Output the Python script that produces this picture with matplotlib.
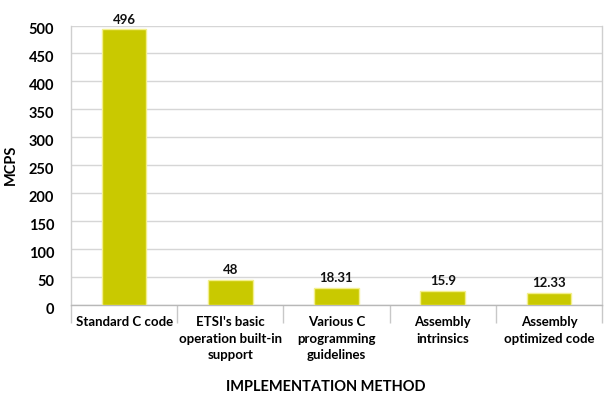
import matplotlib
matplotlib.use("Agg")
import matplotlib.pyplot as plt
import matplotlib.transforms as mtransforms
import numpy as np

plt.rcParams["font.family"] = ["Lato", "DejaVu Sans"]
plt.rcParams["font.weight"] = "bold"

# Data
methods = [
    "Standard C code",
    "ETSI's basic\noperation built-in\nsupport",
    "Various C\nprogramming\nguidelines",
    "Assembly\nintrinsics",
    "Assembly\noptimized code",
]
value_labels = ["496", "48", "18.31", "15.9", "12.33"]
# heights as drawn in the original (small bars are not to scale there)
bar_heights = [493, 45.5, 30.5, 25, 22]
y_ticks = [0, 50, 100, 150, 200, 250, 300, 350, 400, 450, 500]

bar_color = "#c9c900"
grid_color = "#d6d6d6"

fig = plt.figure(figsize=(6.11, 3.98), dpi=100)
ax = fig.add_axes([71 / 611, 1 - 305 / 398, (602 - 71) / 611, (305 - 25.5) / 398])

x = np.arange(len(methods))
ax.bar(x, bar_heights, width=0.42, color=bar_color, edgecolor="#f3ef8c",
       linewidth=1.0, zorder=3)

for xi, h, lab in zip(x, bar_heights, value_labels):
    ax.text(xi, h + 7, lab, ha="center", va="bottom", fontsize=9.5,
            fontweight="bold", color="#111111")

ax.set_xlim(-0.5, len(methods) - 0.5)
ax.set_ylim(0, 500)
ax.set_yticks(y_ticks)
ax.yaxis.grid(True, color=grid_color, linewidth=1.0, zorder=0)
ax.tick_params(axis="y", length=0, pad=12, labelsize=10.5)
offset = mtransforms.ScaledTranslation(0, -3 / 100, fig.dpi_scale_trans)
for lab in ax.get_yticklabels():
    lab.set_transform(lab.get_transform() + offset)
    lab.set_fontweight("bold")

# category labels at centres, separators at boundaries
ax.set_xticks(x)
ax.set_xticklabels(methods, fontsize=9.5, fontweight="bold", linespacing=1.45,
                   va="top")
ax.tick_params(axis="x", which="major", length=0, pad=8)
ax.set_xticks(np.arange(len(methods) + 1) - 0.5, minor=True)
ax.tick_params(axis="x", which="minor", length=13, width=1.0, color="#c8c8c8",
               direction="out")

for side in ["left", "right", "bottom"]:
    ax.spines[side].set_color("#cfcfcf")
    ax.spines[side].set_linewidth(1.0)
ax.spines["top"].set_visible(False)
ax.spines["bottom"].set_color("#b8b8b8")

ax.set_ylabel("MCPS", fontsize=10.5, fontweight="bold")
ax.yaxis.set_label_coords(-0.1, 0.5)
ax.set_xlabel("IMPLEMENTATION METHOD", fontsize=10.5, fontweight="bold")
ax.xaxis.set_label_coords(0.48, -0.27)

fig.savefig("out.png", dpi=100)
